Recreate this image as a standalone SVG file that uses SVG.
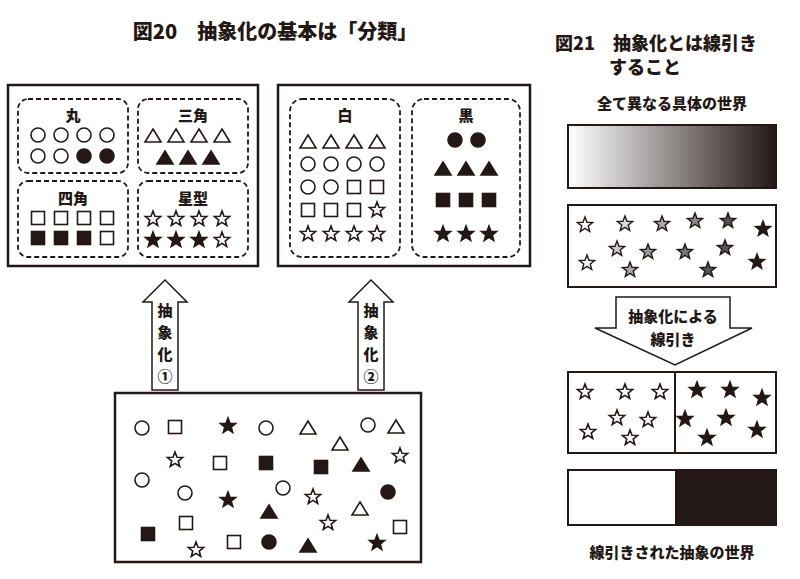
<svg xmlns="http://www.w3.org/2000/svg" xmlns:xlink="http://www.w3.org/1999/xlink" width="800" height="579" viewBox="0 0 800 579">
<style>
.t{font-family:"Noto Sans CJK JP","Noto Sans CJK SC",sans-serif;font-weight:900;fill:#231815}
.box{fill:#fff;stroke:#231815;stroke-width:2.5}
.dash{fill:none;stroke:#231815;stroke-width:1.8;stroke-dasharray:5 3}
.w{fill:#fff;stroke:#231815;stroke-width:1.6}
.b{fill:#231815;stroke:#231815;stroke-width:1.6}
.thin{fill:#fff;stroke:#231815;stroke-width:1.5}
</style>
<defs>
<path id="s" d="M0,-8 L2,-2.75 L7.61,-2.47 L3.23,1.05 L4.7,6.47 L0,3.4 L-4.7,6.47 L-3.23,1.05 L-7.61,-2.47 L-2,-2.75Z"/>
<path id="tr" d="M0,-7 L8,6 L-8,6Z"/>
<rect id="q" x="-6.5" y="-6.5" width="13" height="13"/>
<circle id="c" r="7"/>
<linearGradient id="g" x1="0" x2="1"><stop offset="0" stop-color="#fff"/><stop offset="1" stop-color="#231815"/></linearGradient>
</defs>
<rect width="800" height="579" fill="#fff"/>
<text class="t" x="275" y="39" font-size="20" text-anchor="middle">図20　抽象化の基本は「分類」</text>
<text class="t" x="555" y="50" font-size="18">図21　抽象化とは線引き</text>
<text class="t" x="555" y="74" font-size="18">　　　すること</text>

<g id="box1">
<rect class="box" x="8" y="85" width="250" height="181"/>
<rect class="dash" x="18" y="99" width="110" height="74" rx="10"/>
<rect class="dash" x="138" y="99" width="110" height="74" rx="10"/>
<rect class="dash" x="18" y="181" width="110" height="76" rx="10"/>
<rect class="dash" x="138" y="181" width="110" height="76" rx="10"/>
<text class="t" x="73" y="121" font-size="15" text-anchor="middle">丸</text>
<text class="t" x="193" y="121" font-size="15" text-anchor="middle">三角</text>
<text class="t" x="73" y="204" font-size="15" text-anchor="middle">四角</text>
<text class="t" x="193" y="204" font-size="15" text-anchor="middle">星型</text>
<use href="#c" class="w" x="38" y="135"/><use href="#c" class="w" x="61" y="135"/><use href="#c" class="w" x="84" y="135"/><use href="#c" class="w" x="107" y="135"/>
<use href="#c" class="w" x="38" y="156"/><use href="#c" class="w" x="61" y="156"/><use href="#c" class="b" x="84" y="156"/><use href="#c" class="b" x="107" y="156"/>
<use href="#tr" class="w" x="153" y="136"/><use href="#tr" class="w" x="176" y="136"/><use href="#tr" class="w" x="199" y="136"/><use href="#tr" class="w" x="222" y="136"/>
<use href="#tr" class="b" x="165" y="158"/><use href="#tr" class="b" x="188" y="158"/><use href="#tr" class="b" x="211" y="158"/>
<use href="#q" class="w" x="38" y="218"/><use href="#q" class="w" x="61" y="218"/><use href="#q" class="w" x="84" y="218"/><use href="#q" class="w" x="107" y="218"/>
<use href="#q" class="b" x="38" y="238"/><use href="#q" class="b" x="61" y="238"/><use href="#q" class="b" x="84" y="238"/><use href="#q" class="w" x="107" y="238"/>
<use href="#s" class="w" x="153" y="219"/><use href="#s" class="w" x="176" y="219"/><use href="#s" class="w" x="199" y="219"/><use href="#s" class="w" x="222" y="219"/>
<use href="#s" class="b" x="153" y="240"/><use href="#s" class="b" x="176" y="240"/><use href="#s" class="b" x="199" y="240"/><use href="#s" class="w" x="222" y="240"/>
</g>

<g id="box2">
<rect class="box" x="278" y="85" width="252" height="181"/>
<rect class="dash" x="290" y="99" width="110" height="158" rx="12"/>
<rect class="dash" x="412" y="99" width="108" height="158" rx="12"/>
<text class="t" x="345" y="121" font-size="15" text-anchor="middle">白</text>
<text class="t" x="466" y="121" font-size="15" text-anchor="middle">黒</text>
<use href="#tr" class="w" x="308" y="142"/><use href="#tr" class="w" x="331" y="142"/><use href="#tr" class="w" x="354" y="142"/><use href="#tr" class="w" x="377" y="142"/>
<use href="#c" class="w" x="308" y="164"/><use href="#c" class="w" x="331" y="164"/><use href="#c" class="w" x="354" y="164"/><use href="#c" class="w" x="377" y="164"/>
<use href="#c" class="w" x="308" y="187"/><use href="#c" class="w" x="331" y="187"/><use href="#q" class="w" x="354" y="187"/><use href="#q" class="w" x="377" y="187"/>
<use href="#q" class="w" x="308" y="210"/><use href="#q" class="w" x="331" y="210"/><use href="#q" class="w" x="354" y="210"/><use href="#s" class="w" x="377" y="210"/>
<use href="#s" class="w" x="308" y="234"/><use href="#s" class="w" x="331" y="234"/><use href="#s" class="w" x="354" y="234"/><use href="#s" class="w" x="377" y="234"/>
<use href="#c" class="b" x="455" y="140"/><use href="#c" class="b" x="478" y="140"/>
<use href="#tr" class="b" x="443" y="169"/><use href="#tr" class="b" x="466" y="169"/><use href="#tr" class="b" x="489" y="169"/>
<use href="#q" class="b" x="443" y="200"/><use href="#q" class="b" x="466" y="200"/><use href="#q" class="b" x="489" y="200"/>
<use href="#s" class="b" x="443" y="234"/><use href="#s" class="b" x="466" y="234"/><use href="#s" class="b" x="489" y="234"/>
</g>

<g id="connectors">
<path class="thin" d="M165,280 L187,302 L178,302 L178,390 L152,390 L152,302 L143,302Z"/>
<path class="thin" d="M371,280 L393,302 L384,302 L384,390 L358,390 L358,302 L349,302Z"/>
</g>
<g id="labels" class="t" font-size="15" text-anchor="middle">
<text x="165" y="316">抽</text><text x="165" y="338">象</text><text x="165" y="360">化</text><text x="165" y="382">①</text>
<text x="371" y="316">抽</text><text x="371" y="338">象</text><text x="371" y="360">化</text><text x="371" y="382">②</text>
</g>

<g id="box3">
<rect class="box" x="115" y="393" width="306" height="169"/>
<use href="#c" class="w" x="142" y="428"/><use href="#q" class="w" x="175" y="427"/><use href="#s" class="b" x="228" y="426"/><use href="#c" class="w" x="266" y="428"/>
<use href="#tr" class="w" x="308" y="428"/><use href="#c" class="w" x="368" y="425"/><use href="#tr" class="w" x="396" y="427"/><use href="#tr" class="w" x="340" y="444"/>
<use href="#s" class="w" x="175" y="460"/><use href="#q" class="w" x="220" y="463"/><use href="#q" class="b" x="266" y="463"/><use href="#q" class="b" x="321" y="467"/>
<use href="#tr" class="b" x="361" y="465"/><use href="#s" class="w" x="400" y="456"/>
<use href="#c" class="w" x="142" y="480"/><use href="#c" class="w" x="185" y="493"/><use href="#s" class="b" x="228" y="500"/><use href="#c" class="w" x="283" y="488"/>
<use href="#s" class="w" x="313" y="497"/><use href="#c" class="b" x="388" y="492"/><use href="#tr" class="b" x="269" y="512"/><use href="#tr" class="w" x="360" y="509"/>
<use href="#q" class="w" x="186" y="523"/><use href="#s" class="w" x="328" y="523"/><use href="#q" class="b" x="148" y="534"/><use href="#q" class="w" x="400" y="527"/>
<use href="#s" class="w" x="196" y="550"/><use href="#q" class="w" x="234" y="542"/><use href="#c" class="b" x="269" y="542"/><use href="#tr" class="b" x="308" y="546"/><use href="#s" class="b" x="377" y="543"/>
</g>

<g id="right">
<text class="t" x="672" y="109" font-size="15" text-anchor="middle">全て異なる具体の世界</text>
<rect x="568" y="125" width="208" height="63" fill="url(#g)" stroke="#231815" stroke-width="2"/>
<rect x="568" y="205" width="208" height="82" fill="#fff" stroke="#231815" stroke-width="2"/>
<g stroke="#231815" stroke-width="1.4">
<use href="#s" fill="#fff" x="585" y="225"/><use href="#s" fill="#ddd" x="625" y="224"/><use href="#s" fill="#aaa" x="662" y="224"/><use href="#s" fill="#888" x="695" y="221"/><use href="#s" fill="#555" x="728" y="221"/><use href="#s" fill="#231815" x="763" y="229"/>
<use href="#s" fill="#ccc" x="617" y="249"/><use href="#s" fill="#999" x="648" y="252"/><use href="#s" fill="#777" x="685" y="252"/><use href="#s" fill="#555" x="725" y="248"/>
<use href="#s" fill="#fff" x="587" y="263"/><use href="#s" fill="#aaa" x="630" y="270"/><use href="#s" fill="#555" x="708" y="270"/><use href="#s" fill="#231815" x="757" y="262"/>
</g>
<path class="thin" d="M616,297 L730,297 L730,328 L752,328 L675,365 L595,328 L616,328Z"/>
<text class="t" x="673" y="322" font-size="15" text-anchor="middle">抽象化による</text>
<text class="t" x="673" y="345" font-size="15" text-anchor="middle">線引き</text>
<rect x="568" y="372" width="208" height="81" fill="#fff" stroke="#231815" stroke-width="2"/>
<line x1="675" y1="372" x2="675" y2="453" stroke="#231815" stroke-width="2"/>
<use href="#s" class="w" x="585" y="392"/><use href="#s" class="w" x="625" y="392"/><use href="#s" class="w" x="660" y="392"/><use href="#s" class="w" x="617" y="418"/><use href="#s" class="w" x="648" y="420"/><use href="#s" class="w" x="588" y="432"/><use href="#s" class="w" x="630" y="438"/>
<use href="#s" class="b" x="697" y="390"/><use href="#s" class="b" x="730" y="390"/><use href="#s" class="b" x="762" y="398"/><use href="#s" class="b" x="685" y="419"/><use href="#s" class="b" x="726" y="418"/><use href="#s" class="b" x="707" y="438"/><use href="#s" class="b" x="757" y="430"/>
<rect x="568" y="470" width="208" height="55" fill="#fff" stroke="#231815" stroke-width="2"/>
<rect x="675" y="470" width="101" height="55" fill="#231815"/>
<text class="t" x="672" y="558" font-size="15" text-anchor="middle">線引きされた抽象の世界</text>
</g>
</svg>
